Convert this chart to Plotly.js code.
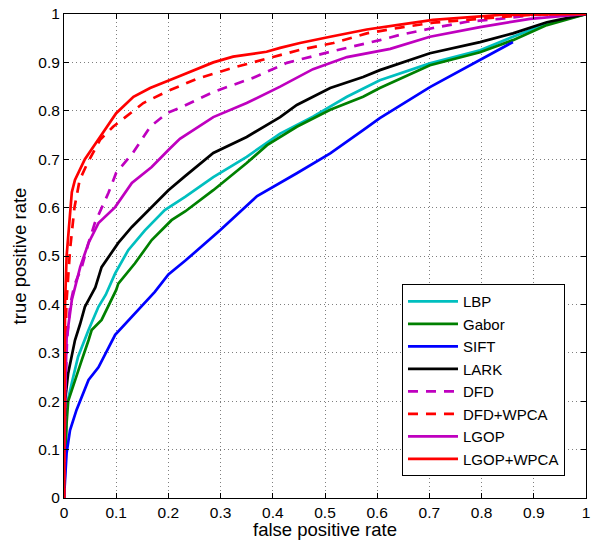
<!DOCTYPE html>
<html>
<head>
<meta charset="utf-8">
<script src="https://cdn.plot.ly/plotly-3.0.1.min.js"></script>
<style>html,body{margin:0;padding:0;background:#fff;}#chart{width:599px;height:540px;}</style>
</head>
<body>
<div id="chart"></div>
<script>
// ROC curves: false positive rate (x) vs true positive rate (y)
const seriesNames = ["LBP","Gabor","SIFT","LARK","DFD","DFD+WPCA","LGOP","LGOP+WPCA"];

const lbpX = [0,0.002,0.005,0.015,0.027,0.047,0.066,0.08,0.098,0.123,0.155,0.193,0.232,0.286,0.35,0.414,0.477,0.542,0.605,0.701,0.797,0.86,0.925,1];
const lbpY = [0,0.1,0.19,0.238,0.292,0.347,0.395,0.42,0.464,0.512,0.553,0.595,0.622,0.663,0.705,0.753,0.788,0.829,0.863,0.898,0.925,0.953,0.98,1];

const gaborX = [0,0.003,0.005,0.008,0.021,0.034,0.047,0.053,0.072,0.091,0.1,0.104,0.136,0.168,0.206,0.232,0.286,0.35,0.389,0.446,0.51,0.573,0.605,0.701,0.797,0.86,0.925,1];
const gaborY = [0,0.1,0.155,0.2,0.245,0.285,0.326,0.347,0.368,0.409,0.43,0.443,0.485,0.533,0.574,0.592,0.636,0.692,0.729,0.767,0.802,0.829,0.847,0.894,0.921,0.946,0.977,1];

const siftX = [0,0.005,0.0115,0.024,0.047,0.066,0.098,0.136,0.174,0.2,0.232,0.299,0.37,0.446,0.51,0.573,0.605,0.701,0.797,0.86];
const siftY = [0,0.093,0.14,0.182,0.244,0.27,0.337,0.382,0.426,0.462,0.49,0.553,0.624,0.671,0.712,0.76,0.785,0.849,0.905,0.942];

const larkX = [0,0.001,0.002,0.008,0.021,0.031,0.04,0.05,0.06,0.072,0.104,0.13,0.162,0.2,0.232,0.286,0.35,0.414,0.446,0.51,0.573,0.605,0.701,0.797,0.86,0.925,1];
const larkY = [0,0.1,0.2,0.258,0.326,0.36,0.395,0.415,0.435,0.477,0.527,0.56,0.595,0.636,0.665,0.713,0.746,0.787,0.812,0.847,0.87,0.884,0.919,0.942,0.96,0.983,1];

const dfdX = [0,0.002,0.006,0.012,0.02,0.034,0.047,0.059,0.085,0.1,0.132,0.165,0.197,0.222,0.286,0.362,0.427,0.51,0.605,0.644,0.707,0.772,0.835,0.9,1];
const dfdY = [0,0.2,0.33,0.4,0.44,0.477,0.527,0.568,0.63,0.672,0.713,0.767,0.795,0.806,0.839,0.868,0.899,0.922,0.946,0.957,0.971,0.984,0.99,0.998,1];

const dfdWpcaX = [0,0.001,0.003,0.005,0.0115,0.02,0.03,0.045,0.069,0.094,0.126,0.152,0.197,0.254,0.324,0.388,0.452,0.516,0.58,0.644,0.707,0.772,0.835,0.9,1];
const dfdWpcaY = [0,0.2,0.35,0.409,0.512,0.6,0.657,0.692,0.74,0.767,0.795,0.816,0.84,0.866,0.889,0.907,0.926,0.94,0.96,0.972,0.982,0.988,0.994,0.999,1];

const lgopX = [0,0.002,0.005,0.015,0.031,0.047,0.066,0.098,0.13,0.168,0.2,0.222,0.286,0.35,0.414,0.477,0.542,0.625,0.701,0.797,0.893,1];
const lgopY = [0,0.2,0.33,0.409,0.477,0.527,0.568,0.601,0.651,0.684,0.719,0.742,0.787,0.816,0.85,0.886,0.911,0.928,0.953,0.973,0.99,1];

const lgopWpcaX = [0,0.001,0.002,0.005,0.0115,0.015,0.021,0.04,0.069,0.1,0.133,0.165,0.222,0.286,0.324,0.388,0.414,0.452,0.51,0.58,0.644,0.707,0.835,1];
const lgopWpcaY = [0,0.2,0.4,0.5,0.6,0.632,0.657,0.7,0.746,0.795,0.829,0.847,0.872,0.9,0.912,0.922,0.93,0.94,0.953,0.968,0.978,0.988,0.998,1];

const xData = [lbpX,gaborX,siftX,larkX,dfdX,dfdWpcaX,lgopX,lgopWpcaX];
const yData = [lbpY,gaborY,siftY,larkY,dfdY,dfdWpcaY,lgopY,lgopWpcaY];
const colors = ["#00BFBF","#008000","#0000FF","#000000","#BF00BF","#FF0000","#BF00BF","#FF0000"];
const dashes = ["solid","solid","solid","solid","10px,8px","10px,8px","solid","solid"];

const traces = seriesNames.map((n,i)=>({
  x: xData[i], y: yData[i], name: n, type: "scatter", mode: "lines",
  line: {color: colors[i], width: 2.7, dash: dashes[i]}
}));

const axisCommon = {
  range: [0,1], dtick: 0.1, tick0: 0, ticks: "inside", ticklen: 5, tickwidth: 1, tickcolor: "#000",
  showline: true, linecolor: "#000", linewidth: 1, mirror: "ticks",
  showgrid: true, gridcolor: "#7f7f7f", gridwidth: 1, griddash: "1px,3px",
  zeroline: false, tickfont: {size: 15.5, color: "#000"}, fixedrange: true
};

const layout = {
  width: 599, height: 540,
  margin: {l: 64, r: 13, t: 14, b: 42},
  paper_bgcolor: "#fff", plot_bgcolor: "#fff",
  font: {family: "Liberation Sans, Arial, sans-serif", color: "#000"},
  xaxis: Object.assign({}, axisCommon, {title: {text: "false positive rate", font: {size: 18.5}, standoff: 2}}),
  yaxis: Object.assign({}, axisCommon, {title: {text: "true positive rate", font: {size: 18.5}, standoff: 6}}),
  legend: {x: 0.6475, y: 0.442, xanchor: "left", yanchor: "top", bgcolor: "#fff",
           bordercolor: "#000", borderwidth: 1, font: {size: 15}, tracegroupgap: 0, itemwidth: 50},
  showlegend: true
};

Plotly.newPlot("chart", traces, layout, {staticPlot: true, displayModeBar: false});
</script>
</body>
</html>
